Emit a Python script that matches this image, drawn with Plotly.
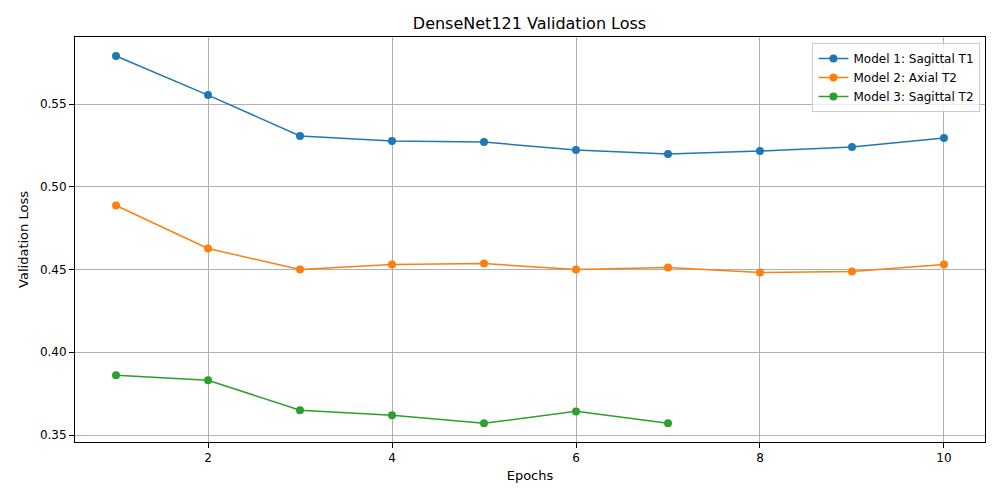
import plotly.graph_objects as go

epochs = list(range(1, 11))
m1 = [0.579, 0.5554, 0.5307, 0.5276, 0.5270, 0.5222, 0.5198, 0.5216, 0.5240, 0.5295]
m2 = [0.4887, 0.4627, 0.4500, 0.4530, 0.4536, 0.4500, 0.4512, 0.4482, 0.4488, 0.4530]
m3 = [0.3861, 0.3831, 0.3650, 0.3619, 0.3571, 0.3643, 0.3571]

names = ["Model 1: Sagittal T1", "Model 2: Axial T2", "Model 3: Sagittal T2"]
colors = ["#1f77b4", "#ff7f0e", "#2ca02c"]

fig = go.Figure()
for name, ys, c in zip(names, [m1, m2, m3], colors):
    fig.add_trace(go.Scatter(x=epochs[:len(ys)], y=ys, mode="lines+markers", name=name,
                             line=dict(color=c, width=1.5), marker=dict(size=8, color=c)))

axis = dict(showline=True, mirror=True, linecolor="black", linewidth=1, ticks="outside",
            tickcolor="black", showgrid=True, gridcolor="#b0b0b0", zeroline=False,
            tickfont=dict(size=12, color="black"))
fig.update_xaxes(axis, range=[0.554, 10.446], tickvals=[2, 4, 6, 8, 10],
                 title=dict(text="Epochs", standoff=6, font=dict(size=13, color="black")))
fig.update_yaxes(axis, range=[0.3458, 0.5905], tickvals=[0.35, 0.40, 0.45, 0.50, 0.55],
                 tickformat=".2f",
                 title=dict(text="Validation Loss", standoff=8, font=dict(size=13, color="black")))
fig.update_layout(
    width=984, height=484,
    font=dict(family="DejaVu Sans"),
    title=dict(text="DenseNet121 Validation Loss", x=0.53, xanchor="center", y=0.969,
               yanchor="middle", font=dict(size=16, color="black")),
    plot_bgcolor="white", paper_bgcolor="white",
    margin=dict(l=67, r=7, t=29, b=50),
    legend=dict(x=0.995, y=0.985, xanchor="right", yanchor="top", bordercolor="#cccccc",
                borderwidth=1, bgcolor="rgba(255,255,255,0.8)", font=dict(size=12, color="black"),
                tracegroupgap=0),
)
fig.write_html("out.html")
